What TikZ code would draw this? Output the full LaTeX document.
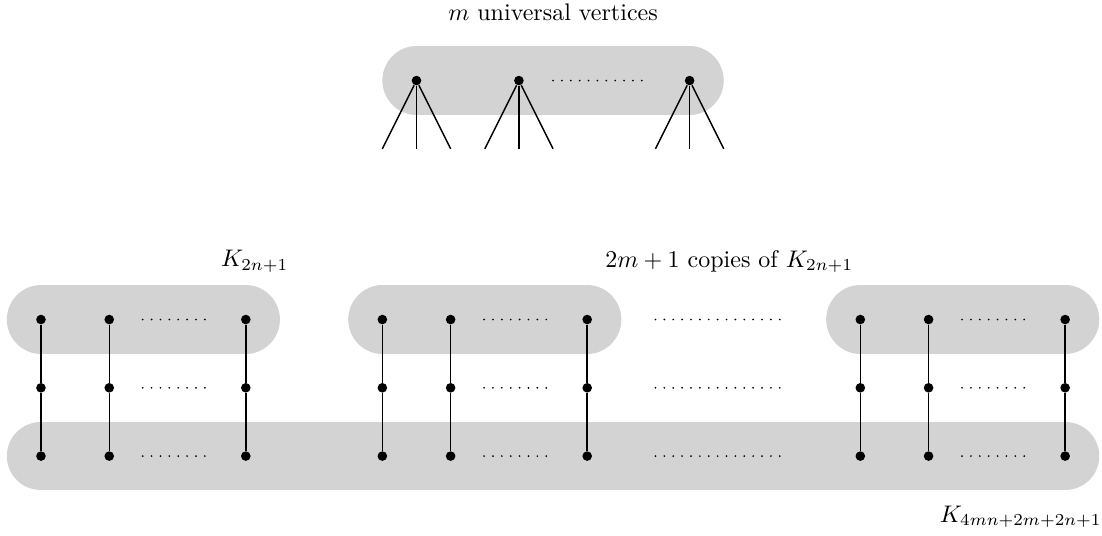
\documentclass[tikz,border=0pt]{standalone}
\usepackage{amsmath}
\usetikzlibrary{positioning,backgrounds}
\definecolor{blobgray}{RGB}{211,211,211}

\begin{document}
\begin{tikzpicture}[
    vtx/.style={circle, fill=black, inner sep=0pt, minimum size=4pt},
    blob/.style={line width=1cm, line cap=round, color=blobgray},
    link/.style={black, line width=0.6pt},
    dotrow/.style={line width=0.8pt, line cap=round, dash pattern=on 0pt off 3.7pt}
]
\useasboundingbox (-0.6,-1.157) rectangle (15.54,6.68);

% Universal vertices (top)
\foreach \x/\n in {5.5/u1, 7/u2, 9.5/u3} {
  \node[vtx] (\n) at (\x,5.5) {};
  \foreach \d/\k in {-0.5/a, 0/b, 0.5/c}
    \coordinate (\n\k) at (\x+\d,4.5);
}
\foreach \n in {u1,u2,u3}
  \foreach \k in {a,b,c}
    \draw[link] (\n) -- (\n\k);
\draw[dotrow] (7.5,5.5) -- (8.9,5.5);

% Copies of K_{2n+1} and the bottom clique
\foreach \o/\c in {0/p, 5/q, 12/r} {
  \foreach \dx/\j in {0/1, 1/2, 3/3} {
    \foreach \y/\r in {2/t, 1/m, 0/b}
      \node[vtx] (\c\j\r) at (\o+\dx,\y) {};
    \draw[link] (\c\j t) -- (\c\j m) -- (\c\j b);
  }
  \foreach \y in {0,1,2}
    \draw[dotrow] (\o+1.49,\y) -- (\o+2.42,\y);
}
\foreach \y in {0,1,2}
  \draw[dotrow] (9.0,\y) -- (10.93,\y);

% Grey blobs
\begin{scope}[on background layer]
  \draw[blob] (u1.center) -- (u3.center);
  \draw[blob] (p1t.center) -- (p3t.center);
  \draw[blob] (q1t.center) -- (q3t.center);
  \draw[blob] (r1t.center) -- (r3t.center);
  \draw[blob] (p1b.center) -- (r3b.center);
\end{scope}

% Labels
\node (lbluni)  at (7.5,6.5)    {$m$ universal vertices};
\node (lblk)    at (3.13,2.85)  {$K_{2n+1}$};
\node (lblcopy) at (10.08,2.85) {$2m+1$ copies of $K_{2n+1}$};
\node (lblbig)  at (14.35,-0.89) {$K_{4mn+2m+2n+1}$};

\end{tikzpicture}
\end{document}
